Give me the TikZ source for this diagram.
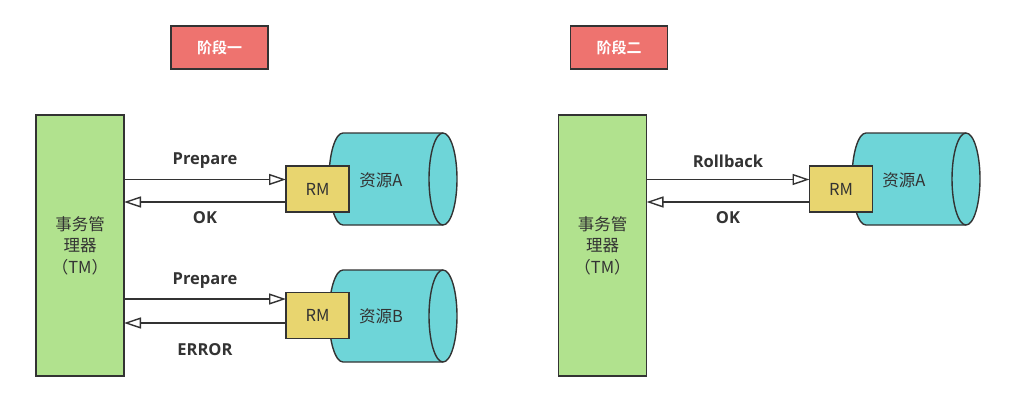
\documentclass[tikz,border=0pt]{standalone}
\usepackage{fontspec}
\setmainfont{Noto Sans CJK SC}
\newfontfamily\lblfont{Open Sans}
\newfontfamily\cjkbold{Noto Sans CJK SC Bold}
\usetikzlibrary{arrows.meta}
\definecolor{tmgreen}{HTML}{B1E28E}
\definecolor{dbcyan}{HTML}{6ED5D8}
\definecolor{rmyellow}{HTML}{E8D56F}
\definecolor{phasered}{HTML}{EE736F}
\definecolor{edge}{HTML}{333333}
\tikzset{
  box/.style={draw=edge, line width=1.4pt, inner sep=0pt, outer sep=0pt},
  tmbox/.style={box, fill=tmgreen, minimum width=88pt, minimum height=261pt, align=center, font=\fontsize{16.5}{21.5}\selectfont, text=edge},
  rmbox/.style={box, fill=rmyellow, minimum width=63pt, minimum height=46pt, font=\fontsize{16.5}{18}\selectfont, text=edge},
  phasebox/.style={box, fill=phasered, minimum width=97pt, minimum height=43pt, font=\cjkbold\fontsize{15}{16}\selectfont, text=white},
  lbl/.style={font=\lblfont\bfseries\fontsize{16.5}{18}\selectfont, text=edge, inner sep=0pt},
  dbtext/.style={font=\fontsize{16.5}{18}\selectfont, text=edge, inner sep=0pt},
  arr/.style={draw=edge, line width=1.4pt, -{Triangle[open, length=17pt, width=11pt, line width=1.4pt]}},
  dbcyl/.pic={
    \draw[draw=edge, line width=1.4pt, fill=dbcyan] (50,-46) -- (-50,-46)
      arc[start angle=270, end angle=90, x radius=14, y radius=46] -- (50,46);
    \draw[draw=edge, line width=1.4pt, fill=dbcyan] (50,0) ellipse[x radius=14, y radius=46];
  }
}
\begin{document}
\begin{tikzpicture}[x=1pt, y=-1pt]
\useasboundingbox (0,0) rectangle (1019,410);
\fill[white] (0,0) rectangle (1019,410);

% phase labels
\node[phasebox] (ph1) at (219.5,47.5) {阶段一};
\node[phasebox] (ph2) at (619,47.5) {阶段二};

% ---------- stage 1 ----------
\node[tmbox] (tm1) at (80,245.5) {事务管\\理器\\（TM）};

\pic at (393,179) {dbcyl};
\pic at (393,316) {dbcyl};
\node[rmbox] (rmA) at (317.5,189) {RM};
\node[rmbox] (rmB) at (317.5,315.5) {RM};
\node[dbtext] (dbA) at (381,180) {资源A};
\node[dbtext] (dbB) at (381,316) {资源B};

\coordinate (y1) at (0,179.5);
\coordinate (y2) at (0,202);
\coordinate (y3) at (0,299);
\coordinate (y4) at (0,323);
\draw[arr] (tm1.east |- y1) -- (rmA.west |- y1);
\draw[arr] (rmA.west |- y2) -- (tm1.east |- y2);
\draw[arr] (tm1.east |- y3) -- (rmB.west |- y3);
\draw[arr] (rmB.west |- y4) -- (tm1.east |- y4);
\node[lbl] (l1) at (205,161) {Prepare};
\node[lbl] (l2) at (205,217.5) {OK};
\node[lbl] (l3) at (205,281) {Prepare};
\node[lbl] (l4) at (205,350) {ERROR};

% ---------- stage 2 ----------
\node[tmbox] (tm2) at (602.5,245.5) {事务管\\理器\\（TM）};
\pic at (916,179) {dbcyl};
\node[rmbox] (rmC) at (841,189) {RM};
\node[dbtext] (dbC) at (904,180.5) {资源A};
\draw[arr] (tm2.east |- y1) -- (rmC.west |- y1);
\draw[arr] (rmC.west |- y2) -- (tm2.east |- y2);
\node[lbl] (l5) at (728,161) {Rollback};
\node[lbl] (l6) at (728,218) {OK};
\end{tikzpicture}
\end{document}
